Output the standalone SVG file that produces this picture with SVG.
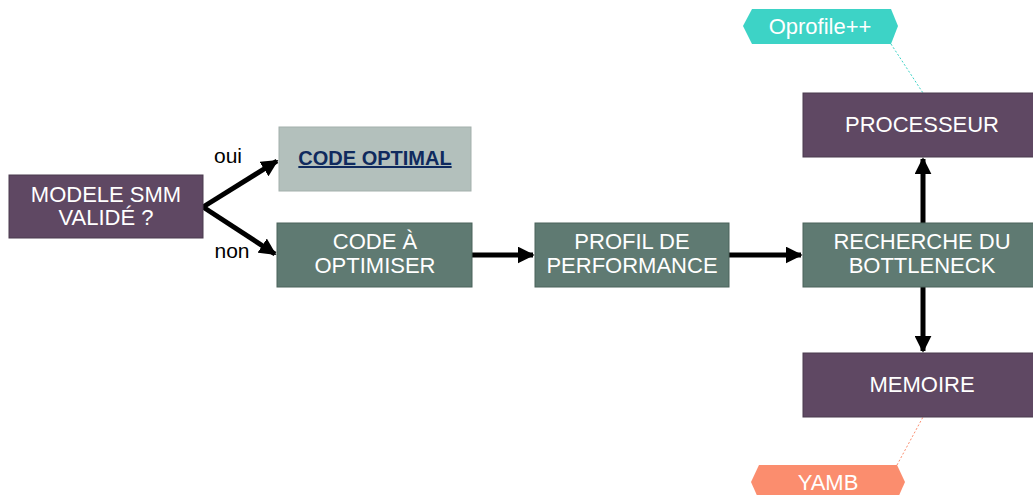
<svg xmlns="http://www.w3.org/2000/svg" width="1033" height="495" viewBox="0 0 1033 495">
<style>
.purple{fill:#5f4863;stroke:#4a3a4e;stroke-width:1}
.green{fill:#5f7a72;stroke:#4a625b;stroke-width:1}
.t{font-family:"Liberation Sans",Arial,sans-serif;font-size:22px;fill:#fff;text-anchor:middle}
.lbl{font-family:"Liberation Sans",Arial,sans-serif;font-size:21px;fill:#000;text-anchor:middle}
.conn{stroke:#000;stroke-width:5;fill:none}
</style>
<defs>
<marker id="ah" viewBox="0 0 10 10" refX="9" refY="5" markerWidth="3.4" markerHeight="3.4" orient="auto" markerUnits="strokeWidth">
<path d="M0,0 L10,5 L0,10 z" fill="#000"/>
</marker>
</defs>
<rect width="1033" height="495" fill="#fff"/>
<g id="connectors">
<line class="conn" x1="203" y1="207" x2="277" y2="161" marker-end="url(#ah)"/>
<line class="conn" x1="203" y1="207" x2="275" y2="254" marker-end="url(#ah)"/>
<line class="conn" x1="472" y1="255" x2="533" y2="255" marker-end="url(#ah)"/>
<line class="conn" x1="729" y1="255" x2="801" y2="255" marker-end="url(#ah)"/>
<line class="conn" x1="923" y1="223" x2="923" y2="159" marker-end="url(#ah)"/>
<line class="conn" x1="923" y1="287" x2="923" y2="351" marker-end="url(#ah)"/>
<line x1="891" y1="44" x2="923" y2="93" stroke="#3dd3c6" stroke-width="1" stroke-dasharray="2,2"/>
<line x1="897" y1="465" x2="923" y2="417" stroke="#fb8d6e" stroke-width="1" stroke-dasharray="2,2"/>
<text class="lbl" x="228" y="163">oui</text>
<text class="lbl" x="232" y="258">non</text>
</g>
<g id="modele">
<rect class="purple" x="9" y="175" width="194" height="63"/>
<text class="t" x="106" y="202">MODELE SMM</text>
<text class="t" x="106" y="225">VALIDÉ ?</text>
</g>
<g id="code-optimal">
<rect x="279" y="127" width="192" height="64" fill="#b3c0bc" stroke="#a3b0ac"/>
<text x="375" y="165" font-family="'Liberation Sans',Arial,sans-serif" font-size="20" font-weight="bold" fill="#0f2a5e" text-anchor="middle" text-decoration="underline">CODE OPTIMAL</text>
</g>
<g id="code-optimiser">
<rect class="green" x="277" y="223" width="195" height="64"/>
<text class="t" x="375" y="249">CODE À</text>
<text class="t" x="375" y="273">OPTIMISER</text>
</g>
<g id="profil">
<rect class="green" x="535" y="223" width="194" height="64"/>
<text class="t" x="632" y="249">PROFIL DE</text>
<text class="t" x="632" y="273">PERFORMANCE</text>
</g>
<g id="recherche">
<rect class="green" x="803" y="223" width="235" height="64"/>
<text class="t" x="922" y="249">RECHERCHE DU</text>
<text class="t" x="922" y="273">BOTTLENECK</text>
</g>
<g id="processeur">
<rect class="purple" x="803" y="93" width="235" height="64"/>
<text class="t" x="922" y="132">PROCESSEUR</text>
</g>
<g id="memoire">
<rect class="purple" x="803" y="353" width="235" height="64"/>
<text class="t" x="922" y="392">MEMOIRE</text>
</g>
<g id="oprofile">
<polygon points="743,26 752,9 891,9 898,26 891,44 752,44" fill="#3dd3c6"/>
<text class="t" x="820" y="34">Oprofile++</text>
</g>
<g id="yamb">
<polygon points="751,482 759,465 897,465 905,482 897,500 759,500" fill="#fb8d6e"/>
<text class="t" x="828" y="490">YAMB</text>
</g>
</svg>
